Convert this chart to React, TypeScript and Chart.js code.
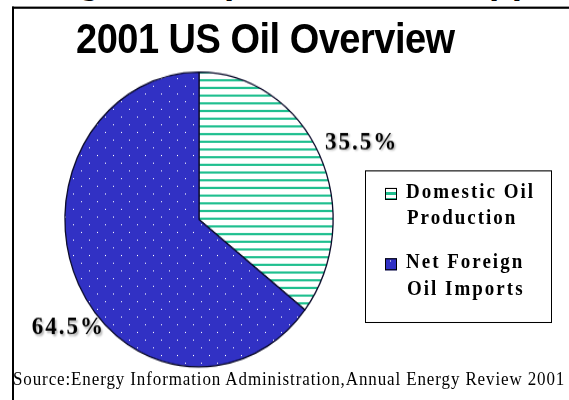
import React, { useEffect, useRef } from 'react';
import Chart from 'chart.js/auto';

// ---- data ----
const categories = ['Domestic Oil Production', 'Net Foreign Oil Imports'];
const legendLines = [
  ['Domestic Oil', 'Production'],
  ['Net Foreign', 'Oil Imports'],
];
const shares = [35.5, 64.5];
const titleText = '2001 US Oil Overview';
const headerText = 'Rising Net Imports Strain Supplies';
const sourceText = 'Source:Energy Information Administration,Annual Energy Review 2001';

// ---- style ----
const GREEN = '#1fbf8f';
const BLUE = '#3131c4';
const W = 569;
const H = 364; // layout height, stretched to 400 on screen
const STRETCH = 400 / H;
const SANS_K = 0.8465;
const SERIF_K = 0.8375;
const labelNudges = [
  [6, 7],
  [26, 22],
];

function stripePattern(ctx: CanvasRenderingContext2D) {
  const c = document.createElement('canvas');
  c.width = 8;
  c.height = 7;
  const g = c.getContext('2d')!;
  g.fillStyle = '#ffffff';
  g.fillRect(0, 0, 8, 7);
  g.fillStyle = GREEN;
  g.fillRect(0, 2, 8, 2);
  return ctx.createPattern(c, 'repeat')!;
}

function dotPattern(ctx: CanvasRenderingContext2D) {
  const c = document.createElement('canvas');
  c.width = 16;
  c.height = 14;
  const g = c.getContext('2d')!;
  g.fillStyle = BLUE;
  g.fillRect(0, 0, 16, 14);
  g.fillStyle = '#ffffff';
  g.fillRect(1, 1, 1, 1);
  g.fillRect(9, 8, 1, 1);
  return ctx.createPattern(c, 'repeat')!;
}

const pctLabels = {
  id: 'pctLabels',
  afterDatasetsDraw(chart: any) {
    const ctx: CanvasRenderingContext2D = chart.ctx;
    const meta = chart.getDatasetMeta(0);
    const data = chart.data.datasets[0].data as number[];
    const total = data.reduce((a, b) => a + b, 0);
    ctx.save();
    ctx.font = 'bold 23px "Liberation Serif"';
    (ctx as any).letterSpacing = '2px';
    ctx.textBaseline = 'middle';
    ctx.textAlign = 'left';
    meta.data.forEach((arc: any, i: number) => {
      const p = arc.getProps(['x', 'y', 'startAngle', 'endAngle', 'outerRadius'], true);
      const mid = (p.startAngle + p.endAngle) / 2;
      const r = p.outerRadius * 1.3;
      const cx = p.x + Math.cos(mid) * r + labelNudges[i][0];
      const cy = p.y + Math.sin(mid) * r + labelNudges[i][1];
      const txt = ((data[i] / total) * 100).toFixed(1) + '%';
      const w = ctx.measureText(txt).width;
      ctx.shadowColor = 'rgba(0,0,0,0.3)';
      ctx.shadowOffsetX = 1.5;
      ctx.shadowOffsetY = 1.5;
      ctx.shadowBlur = 2;
      ctx.fillStyle = '#000';
      ctx.fillText(txt, cx - w / 2, cy);
    });
    ctx.restore();
  },
};

function Txt(props: {
  x: number;
  baseline: number;
  size: number;
  serif?: boolean;
  bold?: boolean;
  ls?: number;
  children: React.ReactNode;
}) {
  const k = props.serif ? SERIF_K : SANS_K;
  return (
    <div
      style={{
        position: 'absolute',
        left: props.x,
        top: props.baseline - k * props.size,
        fontSize: props.size,
        lineHeight: `${props.size}px`,
        fontFamily: props.serif ? '"Liberation Serif", serif' : '"Liberation Sans", Arial, sans-serif',
        fontWeight: props.bold ? 'bold' : 'normal',
        letterSpacing: props.ls ? `${props.ls}px` : undefined,
        whiteSpace: 'nowrap',
        color: '#000',
      }}
    >
      {props.children}
    </div>
  );
}

export default function App() {
  const ref = useRef<HTMLCanvasElement>(null);

  useEffect(() => {
    const canvas = ref.current!;
    const ctx = canvas.getContext('2d')!;
    const chart = new Chart(canvas, {
      type: 'pie',
      data: {
        labels: categories,
        datasets: [
          {
            data: shares,
            backgroundColor: [stripePattern(ctx), dotPattern(ctx)],
            borderColor: '#0a0a2a',
            borderWidth: 1.3,
          },
        ],
      },
      options: {
        responsive: false,
        maintainAspectRatio: false,
        animation: false,
        layout: { padding: { left: 64, right: 235, top: 65, bottom: 29.5 } },
        plugins: {
          legend: { display: false },
          tooltip: { enabled: false },
          title: { display: false },
        },
      },
      plugins: [pctLabels],
    });
    return () => chart.destroy();
  }, []);

  return (
    <div
      style={{
        position: 'fixed',
        left: 0,
        top: 0,
        width: W,
        height: H,
        overflow: 'hidden',
        background: '#fff',
        transform: `scaleY(${STRETCH})`,
        transformOrigin: '0 0',
      }}
    >
      <Txt x={-12.5} baseline={-5.2} size={37} bold>
        {headerText}
      </Txt>
      <div
        style={{
          position: 'absolute',
          left: 12,
          top: 6.1,
          width: 700,
          height: 500,
          borderLeft: '2px solid #000',
          borderTop: '2px solid #000',
          boxSizing: 'border-box',
        }}
      />
      <canvas ref={ref} width={W} height={H} style={{ position: 'absolute', left: 0, top: 0, width: W, height: H }} />
      <Txt x={76} baseline={48.5} size={38} bold ls={-0.5}>
        {titleText}
      </Txt>
      <div
        style={{
          position: 'absolute',
          left: 365,
          top: 154.5,
          width: 187,
          height: 139,
          border: '1px solid #000',
          boxSizing: 'border-box',
        }}
      />
      <div
        style={{
          position: 'absolute',
          left: 385,
          top: 171,
          width: 12,
          height: 11,
          border: '1px solid #000',
          boxSizing: 'border-box',
          background: `repeating-linear-gradient(to bottom, #fff 0px, #fff 3px, ${GREEN} 3px, ${GREEN} 5px)`,
        }}
      />
      <div
        style={{
          position: 'absolute',
          left: 385,
          top: 234.5,
          width: 12,
          height: 11,
          border: '1px solid #000',
          boxSizing: 'border-box',
          background: BLUE,
        }}
      >
        <div style={{ position: 'absolute', left: 4, top: 1, width: 1, height: 1, background: '#fff' }} />
      </div>
      <Txt x={406} baseline={180} size={19} serif bold ls={2}>
        {legendLines[0][0]}
      </Txt>
      <Txt x={407} baseline={203.6} size={19} serif bold ls={2}>
        {legendLines[0][1]}
      </Txt>
      <Txt x={406} baseline={243.6} size={19} serif bold ls={2}>
        {legendLines[1][0]}
      </Txt>
      <Txt x={407} baseline={268.2} size={19} serif bold ls={2}>
        {legendLines[1][1]}
      </Txt>
      <Txt x={13} baseline={350} size={17} serif ls={0.88}>
        {sourceText}
      </Txt>
    </div>
  );
}
